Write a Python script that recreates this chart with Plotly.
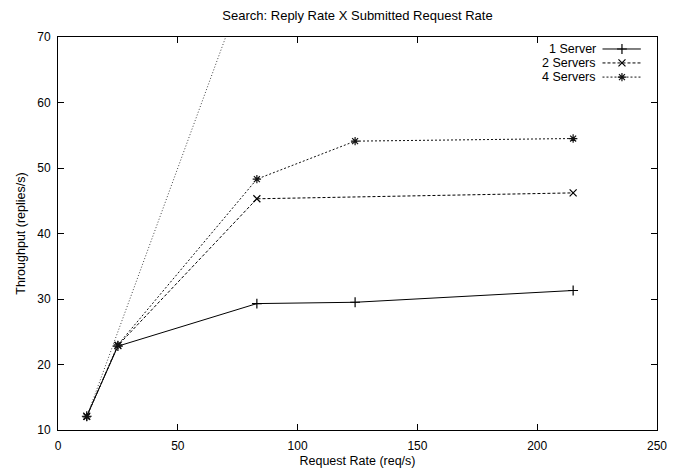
import plotly.graph_objects as go

# ---- data ----
x_1server = [12, 25, 83, 124, 215]
y_1server = [12.1, 22.8, 29.3, 29.5, 31.3]
x_2servers = [12, 25, 83, 215]
y_2servers = [12.1, 22.9, 45.3, 46.2]
x_4servers = [12, 25, 83, 124, 215]
y_4servers = [12.0, 23.0, 48.3, 54.1, 54.5]
x_ideal = [12, 25, 83, 124, 215]
y_ideal = [12, 25, 83, 124, 215]
series_names = ["1 Server", "2 Servers", "4 Servers"]
x_ticks = [0, 50, 100, 150, 200, 250]
y_ticks = [10, 20, 30, 40, 50, 60, 70]

FONT = "Liberation Sans, Arial, sans-serif"
styles = [
    dict(dash="solid", symbol="cross-thin-open", color="#000000"),
    dict(dash="3px,2px", symbol="x-thin-open", color="#000000"),
    dict(dash="2px,2px", symbol="asterisk-open", color="#111111"),
]

fig = go.Figure()

# ideal y = x reference line
fig.add_trace(go.Scatter(x=x_ideal, y=y_ideal, mode="lines",
                         line=dict(color="#444444", width=1, dash="1px,2px"),
                         showlegend=False, hoverinfo="skip"))

data = [(x_1server, y_1server), (x_2servers, y_2servers), (x_4servers, y_4servers)]
for (xs, ys), name, st in zip(data, series_names, styles):
    fig.add_trace(go.Scatter(
        x=xs, y=ys, mode="lines+markers", name=name,
        line=dict(color=st["color"], width=1, dash=st["dash"]),
        marker=dict(symbol=st["symbol"], size=7,
                    line=dict(color=st["color"], width=1.2), color=st["color"]),
        showlegend=False, cliponaxis=False))

# custom gnuplot-style legend (text left, sample right) on an overlay axis
leg_rows = [0.9695, 0.934, 0.898]
for name, st, yy in zip(series_names, styles, leg_rows):
    fig.add_trace(go.Scatter(
        x=[0.909, 0.9415, 0.973], y=[yy, yy, yy], xaxis="x2", yaxis="y2",
        mode="lines", line=dict(color=st["color"], width=1, dash=st["dash"]),
        showlegend=False, hoverinfo="skip"))
    fig.add_trace(go.Scatter(
        x=[0.9415], y=[yy], xaxis="x2", yaxis="y2", mode="markers",
        marker=dict(symbol=st["symbol"], size=7,
                    line=dict(color=st["color"], width=1.2), color=st["color"]),
        showlegend=False, hoverinfo="skip"))
    fig.add_annotation(x=0.899, y=yy, xref="x2", yref="y2", text=name,
                       showarrow=False, xanchor="right", yanchor="middle",
                       borderpad=0,
                       font=dict(family=FONT, size=12.5, color="#000000"))

axis_common = dict(showgrid=False, zeroline=False, showline=True,
                   linecolor="#000000", linewidth=1, mirror="ticks",
                   ticks="inside", ticklen=6, tickcolor="#000000",
                   automargin=False,
                   tickfont=dict(family=FONT, size=12, color="#000000"))

fig.update_layout(
    width=682, height=468,
    margin=dict(l=58, r=25, t=37, b=38),
    paper_bgcolor="white", plot_bgcolor="white",
    title=dict(text="Search: Reply Rate X Submitted Request Rate",
               x=(58 + 657) / 2 / 682, xanchor="center", y=1 - 15 / 468,
               yanchor="middle", font=dict(family=FONT, size=13, color="#000000")),
    xaxis=dict(range=[0, 250], tickvals=x_ticks, ticklabelstandoff=5,
               title=dict(text="Request Rate (req/s)", standoff=14,
                          font=dict(family=FONT, size=12.5, color="#000000")),
               **axis_common),
    yaxis=dict(range=[10, 70], tickvals=y_ticks, ticklabelstandoff=4,
               title=dict(text="Throughput (replies/s)", standoff=8,
                          font=dict(family=FONT, size=12.5, color="#000000")),
               **axis_common),
    xaxis2=dict(range=[0, 1], overlaying="x", visible=False, fixedrange=True),
    yaxis2=dict(range=[0, 1], overlaying="y", visible=False, fixedrange=True),
    showlegend=False,
)

fig.write_html("out.html")
